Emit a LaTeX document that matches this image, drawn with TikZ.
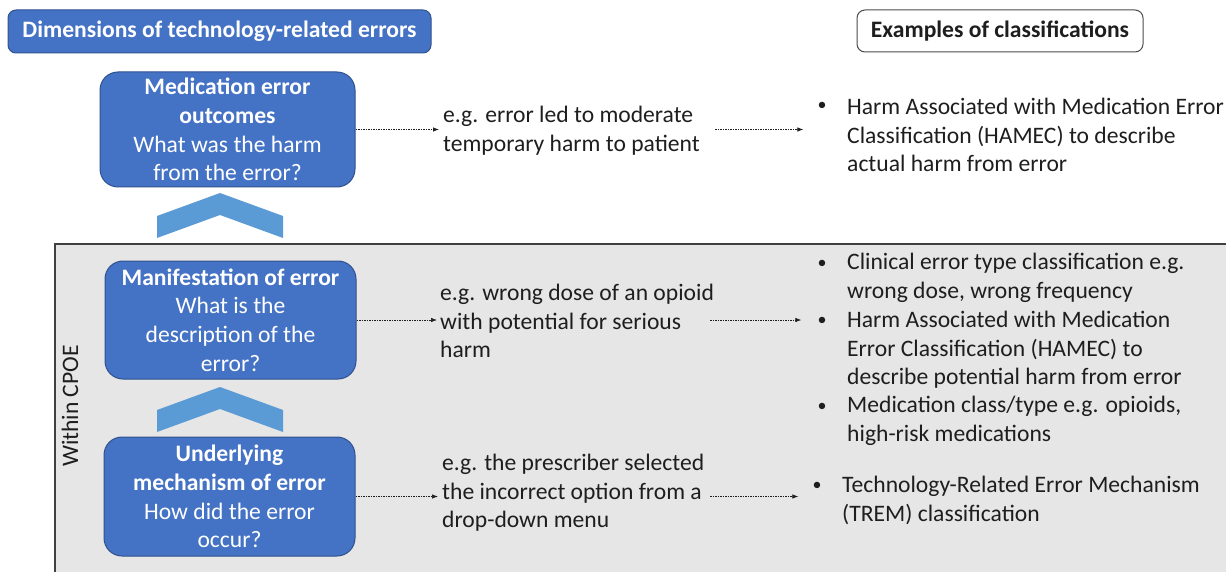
\documentclass[tikz,border=0pt]{standalone}
\usepackage{fontspec}
\setmainfont{Carlito}
\usetikzlibrary{arrows.meta,calc}
\definecolor{boxblue}{HTML}{4472C4}
\definecolor{boxedge}{HTML}{2F528F}
\definecolor{chev}{HTML}{5B9BD5}
\definecolor{cpoe}{HTML}{E7E6E6}
\definecolor{ink}{HTML}{1E1E1E}
\newcommand{\fs}{\fontsize{23.6}{28.7}\selectfont}
\begin{document}
\begin{tikzpicture}[x=1pt,y=-1pt,
  dimbox/.style={draw=boxedge, line width=1pt, fill=boxblue, rounded corners=18pt,
    text=white, align=center, font=\fs, inner sep=0pt},
  titlebox/.style={draw=boxedge, line width=1pt, fill=boxblue, rounded corners=8pt,
    text=white, font=\fs\bfseries, inner sep=0pt},
  exbox/.style={draw=ink!80, line width=1pt, fill=white, rounded corners=8pt,
    text=ink, font=\fs\bfseries, inner sep=0pt},
  plain/.style={text=ink, font=\fs, align=left, inner sep=0pt, anchor=west},
  bul/.style={text=ink, font=\fontsize{18}{20}\selectfont, inner sep=0pt},
  side/.style={text=ink, font=\fs, inner sep=0pt},
  conn/.style={draw=ink, line width=0.7pt, dash pattern=on 1.6pt off 0.9pt,
    -{Latex[length=6pt,width=4.5pt]}},
  chevron/.style={fill=chev}
]
\useasboundingbox (0,0) rectangle (1226,572);
\clip (0,0) rectangle (1226,572);

% CPOE region
\draw[draw=ink!85, line width=1.2pt, fill=cpoe] (55,244) rectangle (1250,600);
\node[side, rotate=90] (cpoe) at (70,406) {Within CPOE};

% header boxes
\node[titlebox, minimum width=423pt, minimum height=43pt] (t1) at (219.5,31.5) {Dimensions of technology-related errors};
\node[exbox, minimum width=286pt, minimum height=42pt] (t2) at (1000,31) {Examples of classifications};

% dimension boxes
\node[dimbox, minimum width=255pt, minimum height=115pt] (b1) at (227.5,129.5)
  {\textbf{Medication error}\\\textbf{outcomes}\\What was the harm\\from the error?};
\node[dimbox, minimum width=251pt, minimum height=118pt] (b2) at (230.5,320)
  {\textbf{Manifestation of error}\\What is the\\description of the\\error?};
\node[dimbox, minimum width=251pt, minimum height=119pt] (b3) at (229.5,496.5)
  {\textbf{Underlying}\\\textbf{mechanism of error}\\How did the error\\occur?};

% chevrons
\foreach \dy in {0,194}{
  \fill[chevron] (157,216+\dy) -- (220,193+\dy) -- (283,216+\dy) -- (283,238+\dy)
     -- (220,215+\dy) -- (157,238+\dy) -- cycle;
}

% middle texts
\node[plain] (m1) at (443,131) {e.g. error led to moderate\\temporary harm to patient};
\node[plain] (m2) at (440,321) {e.g. wrong dose of an opioid\\with potential for serious\\harm};
\node[plain] (m3) at (442,493) {e.g. the prescriber selected\\the incorrect option from a\\drop-down menu};

% right texts
\node[bul] (d1) at (822,106) {•};
\node[plain] (r1) at (847,135) {Harm Associated with Medication Error\\Classification (HAMEC) to describe\\actual harm from error};

\node[bul] (d2a) at (822,264) {•};
\node[plain] (r2a) at (847,278) {Clinical error type classification e.g.\\wrong dose, wrong frequency};
\node[bul] (d2b) at (822,321) {•};
\node[plain] (r2b) at (847,350) {Harm Associated with Medication\\Error Classification (HAMEC) to\\describe potential harm from error};
\node[bul] (d2c) at (822,407) {•};
\node[plain] (r2c) at (847,421) {Medication class/type e.g. opioids,\\high-risk medications};

\node[bul] (d3) at (817,486) {•};
\node[plain] (r3) at (842,500.5) {Technology-Related Error Mechanism\\(TREM) classification};

% connectors
\draw[conn, shorten >=4pt] (b1.east) -- (b1.east -| m1.west);
\draw[conn, shorten >=14pt] ($(b1.east -| m1.west)+(272,0)$) -- (b1.east -| d1.west);
\draw[conn, shorten >=3pt] (b2.east) -- (b2.east -| m2.west);
\draw[conn, shorten >=16pt] ($(b2.east -| m2.west)+(270,0)$) -- (b2.east -| d2b.west);
\draw[conn, shorten >=4pt] (b3.east) -- (b3.east -| m3.west);
\draw[conn, shorten >=14pt] ($(b3.east -| m3.west)+(268,0)$) -- (b3.east -| d3.west);
\end{tikzpicture}
\end{document}
